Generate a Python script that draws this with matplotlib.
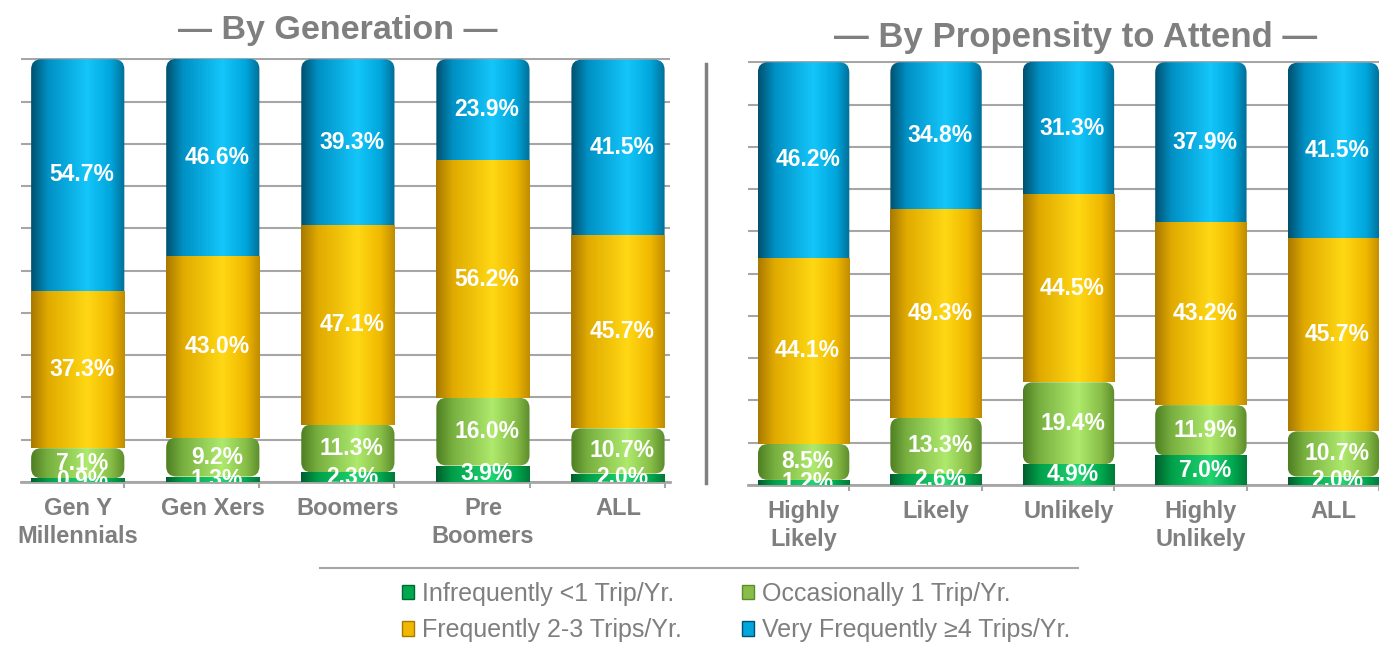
import numpy as np
import matplotlib
matplotlib.use('Agg')
import matplotlib.pyplot as plt
from matplotlib.patches import FancyBboxPatch, Rectangle, Patch
from matplotlib.colors import LinearSegmentedColormap
from matplotlib.lines import Line2D

plt.rcParams['font.family'] = ['Liberation Sans', 'DejaVu Sans']

# 数据 左图按年龄段 右图按参加意愿
gen_labels = ['Gen Y\nMillennials', 'Gen Xers', 'Boomers', 'Pre\nBoomers', 'ALL']
gen_infreq = [0.9, 1.3, 2.3, 3.9, 2.0]
gen_occas = [7.1, 9.2, 11.3, 16.0, 10.7]
gen_freq = [37.3, 43.0, 47.1, 56.2, 45.7]
gen_very = [54.7, 46.6, 39.3, 23.9, 41.5]

prop_labels = ['Highly\nLikely', 'Likely', 'Unlikely', 'Highly\nUnlikely', 'ALL']
prop_infreq = [1.2, 2.6, 4.9, 7.0, 2.0]
prop_occas = [8.5, 13.3, 19.4, 11.9, 10.7]
prop_freq = [44.1, 49.3, 44.5, 43.2, 45.7]
prop_very = [46.2, 34.8, 31.3, 37.9, 41.5]

legend_labels = ['Infrequently <1 Trip/Yr.', 'Occasionally 1 Trip/Yr.',
                 'Frequently 2-3 Trips/Yr.', 'Very Frequently ≥4 Trips/Yr.']

# 圆柱效果的横向渐变色
stops = [0, 0.18, 0.6, 0.85, 1]
cmap_infreq = LinearSegmentedColormap.from_list('infreq', list(zip(stops, ['#005E2C', '#00A04A', '#22D472', '#00A850', '#007A38'])))
cmap_occas = LinearSegmentedColormap.from_list('occas', list(zip(stops, ['#4E7E22', '#78B040', '#AEEA6C', '#88BE48', '#5C8C2C'])))
cmap_freq = LinearSegmentedColormap.from_list('freq', list(zip(stops, ['#A87800', '#E0AA00', '#FFD814', '#F0B800', '#C08C00'])))
cmap_very = LinearSegmentedColormap.from_list('very', list(zip(stops, ['#00506E', '#0090C4', '#14C6FA', '#00A6DC', '#006E98'])))
grad = np.linspace(0, 1, 256).reshape(1, -1)

bar_w = 0.69
r_size = 0.075
px_aspect = 134.9 / 4.24  # x单位像素 / y单位像素
gray_txt = '#7F7F7F'
gray_grid = '#A6A6A6'


def draw_seg(ax, x, y0, h, cmap, rounded, z):
    if rounded:
        patch = FancyBboxPatch((x - bar_w / 2, y0), bar_w, h,
                               boxstyle='round,pad=0,rounding_size=%f' % r_size,
                               mutation_aspect=px_aspect, facecolor='none', edgecolor='none')
    else:
        patch = Rectangle((x - bar_w / 2, y0), bar_w, h, facecolor='none', edgecolor='none')
    ax.add_patch(patch)
    im = ax.imshow(grad, cmap=cmap, extent=[x - bar_w / 2, x + bar_w / 2, y0, y0 + h],
                   aspect='auto', zorder=z, interpolation='bicubic')
    im.set_clip_path(patch)


def panel(ax, labels, infreq, occas, freq, very, xmax):
    n = len(labels)
    for i in range(n):
        b1 = infreq[i]
        b2 = b1 + occas[i]
        b3 = b2 + freq[i]
        draw_seg(ax, i, 0, infreq[i], cmap_infreq, False, 3)
        draw_seg(ax, i, b1, occas[i], cmap_occas, True, 3)
        draw_seg(ax, i, b2, freq[i], cmap_freq, False, 3)
        draw_seg(ax, i, b3 - 4, very[i] + 4, cmap_very, True, 2)
        for base, v in [(0, infreq[i]), (b1, occas[i]), (b2, freq[i]), (b3, very[i])]:
            ax.text(i + 0.03, base + v / 2, '%.1f%%' % v, ha='center', va='center', color='white',
                    fontsize=16.5, fontweight='bold', zorder=10, clip_on=True)
    ax.set_xlim(-0.42, xmax)
    ax.set_ylim(0, 100.3)
    ax.set_yticks(np.arange(0, 101, 10))
    ax.yaxis.grid(True, color=gray_grid, lw=1.5)
    ax.set_axisbelow(True)
    ax.tick_params(axis='y', length=0, labelleft=False)
    for s in ['top', 'left', 'right']:
        ax.spines[s].set_visible(False)
    ax.spines['bottom'].set_color(gray_grid)
    ax.spines['bottom'].set_linewidth(2)
    ax.set_xticks([i + bar_w / 2 for i in range(n)])
    ax.set_xticklabels([])
    ax.tick_params(axis='x', which='major', length=4.5, width=1.5, color=gray_grid)
    ax.set_xticks(range(n), minor=True)
    ax.set_xticklabels(labels, minor=True, fontsize=17, fontweight='bold', color=gray_txt,
                       linespacing=1.25)
    ax.tick_params(axis='x', which='minor', length=0, pad=11)


fig = plt.figure(figsize=(13.79, 6.52), dpi=100)
ax1 = fig.add_axes([21 / 1379, 170 / 652, 649 / 1379, 424 / 652])
ax2 = fig.add_axes([748 / 1379, 167 / 652, 631 / 1379, 424 / 652])
panel(ax1, gen_labels, gen_infreq, gen_occas, gen_freq, gen_very, 4.385)
panel(ax2, prop_labels, prop_infreq, prop_occas, prop_freq, prop_very, 4.295)

fig.text(338 / 1379, 1 - 30 / 652, '— By Generation —', ha='center', va='center',
         fontsize=24.5, fontweight='bold', color=gray_txt)
fig.text(1076 / 1379, 1 - 37 / 652, '— By Propensity to Attend —', ha='center', va='center',
         fontsize=25, fontweight='bold', color=gray_txt)

# 中间分隔线和图例上方横线
fig.add_artist(Line2D([706 / 1379] * 2, [1 - 64 / 652, 1 - 483 / 652], color='#808080', lw=2.5))
fig.add_artist(Line2D([320 / 1379, 1078 / 1379], [1 - 568 / 652] * 2, color=gray_grid, lw=1.5))

handles = [Patch(facecolor='#00A850', edgecolor='#006B30'),
           Patch(facecolor='#F0B800', edgecolor='#A87800'),
           Patch(facecolor='#88BE48', edgecolor='#5C8C2C'),
           Patch(facecolor='#00A6DC', edgecolor='#00506E')]
order_labels = [legend_labels[0], legend_labels[2], legend_labels[1], legend_labels[3]]
fig.legend(handles, order_labels, loc='center', bbox_to_anchor=(736 / 1379, 1 - 612 / 652), ncol=2,
           frameon=False, fontsize=18, labelcolor=gray_txt, handlelength=0.5, handleheight=0.5,
           handletextpad=0.3, columnspacing=2.4, labelspacing=0.5)

fig.savefig('out.png', dpi=100)
